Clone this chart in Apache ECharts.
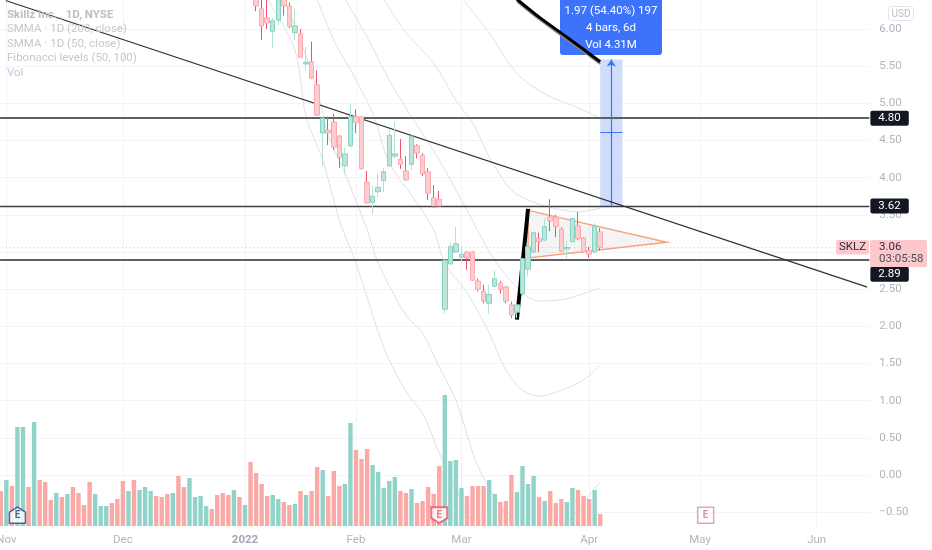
<!DOCTYPE html>
<html>
<head>
    <meta charset="utf-8">
    <title>SKLZ 1D</title>
    <script src="https://cdn.jsdelivr.net/npm/echarts@6/dist/echarts.min.js"></script>
    <style>
    html, body {margin: 0; padding: 0; background: #fff;}
    #main {width: 932px; height: 550px;}
    </style>
</head>
<body>
<div id="main"></div>
<script type="text/javascript">
// trading days, weekends and market holidays left out
var holidays = ['2021-11-25', '2021-12-24', '2022-01-17', '2022-02-21', '2022-04-15', '2022-05-30'];
var dayCount = 157;
var monthLabels = {'2021-11-01': 'Nov', '2021-12-01': 'Dec', '2022-01-03': '2022', '2022-02-01': 'Feb',
    '2022-03-01': 'Mar', '2022-04-01': 'Apr', '2022-05-02': 'May', '2022-06-01': 'Jun'};
var priceTicks = [6, 5.5, 5, 4.5, 4, 3.5, 3, 2.5, 2, 1.5, 1, 0.5, 0, -0.5];

// volume in millions, first bar is 2021-10-29
var volumes = [3.5, 4.6, 4.0, 9.9, 9.9, 3.9, 10.4, 4.6, 4.4, 2.6, 3.3, 2.9, 3.2, 3.9, 3.3, 2.1, 4.4, 3.2, 2.0, 2.0,
    2.3, 2.7, 4.5, 3.5, 4.6, 3.6, 3.9, 3.5, 3.0, 2.9, 3.2, 3.3, 5.0, 3.9, 4.8, 2.9, 3.0, 2.0, 1.7, 3.1,
    3.3, 3.1, 3.6, 2.9, 2.1, 6.4, 5.3, 4.2, 3.0, 3.1, 2.7, 2.4, 2.1, 2.2, 3.5, 3.1, 3.5, 5.9, 5.6, 3.0,
    5.5, 4.0, 4.2, 10.3, 7.6, 6.7, 7.7, 6.1, 5.4, 3.8, 4.5, 4.9, 3.5, 3.3, 3.7, 2.3, 2.5, 3.9, 3.2, 6.0,
    13.1, 6.5, 6.6, 3.8, 3.0, 4.0, 4.0, 4.0, 4.6, 3.2, 2.4, 2.5, 5.1, 3.4, 6.0, 4.2, 5.0, 2.9, 2.5, 3.5,
    2.3, 2.7, 2.4, 3.8, 3.6, 3.0, 2.7, 3.6, 1.2];
// 1 = up day, 0 = down day
var volumeUp = [0, 1, 0, 1, 1, 0, 1, 0, 0, 0, 1, 0, 1, 0, 0, 0, 0, 1, 1, 1,
    0, 0, 0, 1, 0, 1, 1, 1, 0, 0, 0, 1, 0, 0, 1, 1, 1, 1, 0, 0,
    0, 0, 1, 0, 1, 0, 0, 0, 0, 1, 1, 0, 0, 1, 0, 1, 0, 0, 1, 0,
    0, 0, 1, 1, 0, 0, 0, 1, 1, 1, 1, 1, 0, 0, 1, 0, 0, 0, 0, 0,
    1, 1, 1, 1, 0, 0, 0, 0, 1, 1, 0, 0, 0, 1, 1, 1, 1, 0, 1, 0,
    0, 0, 1, 1, 0, 0, 0, 1, 0];

// open, close, low, high; starts at candleStart, earlier bars are above the pane
var candleStart = 46;
var candles = [
    [6.45, 6.31, 6.24, 6.5], [6.27, 6.04, 5.85, 6.43], [6.15, 6.08, 6.0, 6.45], [5.97, 6.11, 5.74, 6.15],
    [6.12, 6.5, 6.05, 6.6], [6.5, 6.31, 6.18, 6.6], [6.31, 6.03, 6.01, 6.36], [5.95, 6.04, 5.85, 6.27],
    [5.93, 5.62, 5.61, 6.0], [5.53, 5.55, 5.44, 5.76], [5.56, 5.34, 5.33, 5.83], [5.25, 4.84, 4.83, 5.44],
    [4.6, 4.8, 4.16, 4.81], [4.64, 4.6, 4.44, 4.82], [4.75, 4.41, 4.37, 4.86], [4.56, 4.27, 4.13, 4.57],
    [4.16, 4.32, 4.04, 4.4], [4.43, 4.82, 4.4, 5.0], [4.82, 4.74, 4.6, 4.92], [4.82, 4.12, 4.11, 4.82],
    [3.94, 3.66, 3.65, 4.09], [3.67, 3.75, 3.51, 3.89], [3.81, 3.87, 3.74, 4.05], [3.96, 4.08, 3.81, 4.13],
    [4.16, 4.57, 4.14, 4.64], [4.29, 4.32, 4.26, 4.75], [4.25, 4.18, 4.12, 4.52], [4.09, 3.97, 3.96, 4.29],
    [4.18, 4.55, 4.1, 4.57], [4.43, 4.33, 4.26, 4.45], [4.3, 4.05, 4.02, 4.33], [4.08, 3.79, 3.7, 4.13],
    [3.73, 3.62, 3.59, 3.9], [3.71, 3.62, 3.61, 3.82], [2.23, 2.89, 2.17, 2.9], [2.84, 3.07, 2.83, 3.13],
    [3.0, 3.11, 2.99, 3.34], [2.93, 2.97, 2.87, 3.07], [3.0, 2.92, 2.76, 3.01], [3.0, 2.62, 2.61, 3.01],
    [2.61, 2.5, 2.47, 2.64], [2.47, 2.34, 2.31, 2.56], [2.31, 2.43, 2.17, 2.56], [2.54, 2.64, 2.53, 2.75],
    [2.58, 2.5, 2.44, 2.61], [2.53, 2.34, 2.31, 2.54], [2.29, 2.15, 2.11, 2.33], [2.19, 2.29, 2.11, 2.3],
    [2.44, 2.91, 2.41, 2.92], [2.77, 3.07, 2.68, 3.08], [3.0, 3.26, 2.98, 3.27], [3.18, 3.14, 3.0, 3.26],
    [3.16, 3.34, 3.15, 3.46], [3.47, 3.42, 3.28, 3.71], [3.47, 3.34, 3.2, 3.5], [3.31, 3.01, 3.0, 3.33],
    [3.04, 3.06, 2.91, 3.15], [3.14, 3.45, 3.13, 3.46], [3.35, 3.18, 3.16, 3.54], [3.19, 3.0, 2.99, 3.2],
    [3.02, 2.97, 2.92, 3.07], [3.0, 3.34, 2.99, 3.39], [3.27, 3.06, 3.02, 3.32]
];

// moving average curves, [bar index, price]
var maA = [[83, 6.42], [88, 5.95], [92, 5.49], [95, 5.27], [99, 5.09], [104, 4.94], [108, 4.8]];
var maB = [[69, 6.4], [73, 5.95], [78, 5.54], [82, 5.04], [85, 4.74], [88, 4.28], [92, 3.83], [95, 3.7], [99, 3.6], [104, 3.54], [108, 3.59]];
var maC = [[62, 6.4], [66, 5.89], [70, 5.31], [74, 4.82], [79, 4.24], [83, 3.7], [89, 2.89], [94, 2.45], [97, 2.34], [102, 2.37], [108, 2.52]];
var maD = [[57, 6.4], [60, 5.85], [63, 5.45], [67, 4.87], [70, 4.2], [75, 3.66], [78, 3.3], [80, 2.85], [84, 2.45], [88, 1.91], [91, 1.41], [94, 1.14], [97, 1.06], [102, 1.17], [105, 1.28], [108, 1.48]];
var maE = [[51, 6.4], [54, 5.85], [57, 5.18], [59, 4.57], [62, 4.06], [66, 3.3], [68, 2.85], [73, 2.15], [76, 1.91], [79, 1.45], [82, 1.01], [86, 0.11], [92, -0.65], [97, -1.1], [102, -0.65], [108, -0.09]];
var maF = [[48, 6.4], [53, 5.72], [55, 4.82], [58, 4.24], [61, 3.43], [64, 2.85], [69, 1.72], [73, 1.12], [76, 0.83], [79, 0.3], [85, -0.65], [87, -0.9]];

// drawings
var levels = [4.8, 3.62, 2.89];
var lastClose = 3.06;
var trendLine = [[1, 6.38], [156, 2.53]];
var flagPole = [[93, 2.09], [95, 3.58]];
var pennant = [[95, 3.56], [120, 3.13], [95, 2.92]];
var bigCurve = [[93, 6.4], [97, 6.16], [102, 5.89], [108, 5.56]];
var bigCurveShade = [[93, 6.37], [97, 6.13], [102, 5.86], [108, 5.53]];
var measureFrom = 108, measureTo = 112, measureMid = 110;
var measureTop = 5.59, measureBottom = 3.62, measureMiddle = 4.61;
var earningsBars = [3, 79, 127];
var earningsLevel = -0.54;

var categories = [];
var t = Date.UTC(2021, 9, 29);
while (categories.length < dayCount) {
    var d = new Date(t);
    var s = d.toISOString().slice(0, 10);
    if (d.getUTCDay() != 0 && d.getUTCDay() != 6 && holidays.indexOf(s) < 0) categories.push(s);
    t += 24 * 3600 * 1000;
}

var UP_WICK = '#b5e4cc', DOWN_WICK = '#f2506e';
var UP_FILL = '#bfe5da', UP_EDGE = '#84d2c2', DOWN_FILL = '#fdcdcf', DOWN_EDGE = '#fbaab0';
var GREY = '#b2b5be', FONT = 'Roboto, sans-serif';
var MA_COLOR = '#dfdfe7';

var pad = [];
for (var i = 0; i < candleStart; i++) pad.push(['-', '-', '-', '-']);
var wickData = pad.concat(candles);
var bodyData = pad.concat(candles.map(function (c) {
    return [c[0], c[1], Math.min(c[0], c[1]), Math.max(c[0], c[1])];
}));

function showMonth(index, value) {
    return monthLabels[value] !== undefined;
}

function lineSeries(data, color, width, z, smooth, cap) {
    return {
        type: 'line', data: data, symbol: 'none', smooth: smooth || 0, z: z, silent: true,
        lineStyle: {color: color, width: width, cap: cap || 'round'}
    };
}

function levelLine(value, color, width, offset) {
    return {
        yAxis: value,
        lineStyle: {color: color, width: width, type: 'solid'},
        label: {
            show: true, position: 'end', distance: 1, formatter: value.toFixed(2), offset: [0, offset],
            color: '#fff', backgroundColor: '#131722', borderRadius: 2, padding: [2, 8, 1, 8],
            fontFamily: FONT, fontSize: 11.5
        }
    };
}

var chart = echarts.init(document.getElementById('main'));

var trendSeries = lineSeries(trendLine, '#2f3239', 1.3, 4);
trendSeries.markLine = {
    silent: true, symbol: 'none', animation: false, z: 4,
    data: [
        levelLine(levels[0], '#5f6063', 2, 0),
        levelLine(levels[1], '#3c3e44', 1.4, 0),
        levelLine(levels[2], '#5f6063', 2, 14),
        {yAxis: lastClose, lineStyle: {color: '#fbc4c8', width: 1, type: [1, 3]}, label: {show: false}},
        // measure tool, arrow and middle tick
        [{coord: [measureMid, measureBottom], lineStyle: {color: '#3f73f5', width: 1.2, type: 'solid'}, label: {show: false}, symbol: 'none', symbolSize: 0},
            {coord: [measureMid, measureTop], symbol: 'arrow', symbolSize: 7}],
        [{coord: [measureFrom, measureMiddle], lineStyle: {color: '#3f73f5', width: 1, type: 'solid'}, label: {show: false}, symbol: 'none', symbolSize: 0},
            {coord: [measureTo, measureMiddle], symbol: 'none', symbolSize: 0}]
    ]
};
trendSeries.markArea = {
    silent: true, animation: false, z: 3,
    itemStyle: {color: '#cfdcfb'},
    data: [[{coord: [measureFrom, measureTop]}, {coord: [measureTo, measureBottom]}]]
};

var option = {
    animation: false,
    backgroundColor: '#fff',
    grid: [{left: -1.98, top: 0, width: 871.35, height: 526, outerBoundsMode: 'none'}],
    xAxis: [{
        type: 'category', data: categories, boundaryGap: true,
        axisLine: {show: false},
        axisTick: {show: false, alignWithLabel: true, interval: showMonth},
        splitLine: {show: true, alignWithLabel: true, interval: showMonth, lineStyle: {color: '#f1f2fa', width: 1}},
        axisLabel: {
            interval: showMonth, margin: 8, color: GREY, fontFamily: FONT, fontSize: 11.5, hideOverlap: false,
            formatter: function (v) {
                return monthLabels[v] == '2022' ? '{y|2022}' : monthLabels[v];
            },
            rich: {y: {color: '#a3a6af', fontWeight: 'bold', fontFamily: FONT, fontSize: 11.5}}
        }
    }],
    yAxis: [{
        type: 'value', position: 'right', min: -0.686, max: 6.39, scale: true,
        axisLine: {show: false},
        axisTick: {show: false, customValues: priceTicks},
        splitLine: {show: true, lineStyle: {color: '#f3f4fb', width: 1}},
        axisLabel: {
            customValues: priceTicks, margin: 10, color: GREY, fontFamily: FONT, fontSize: 11.5,
            formatter: function (v) { return v.toFixed(2).replace('-', '\u2212'); }
        }
    }, {
        // volume overlay, bars share the pane with price
        type: 'value', min: 0, max: 52.6, show: false, splitLine: {show: false}
    }],
    series: [
        lineSeries(maA, MA_COLOR, 1, 1, 0.3),
        lineSeries(maB, MA_COLOR, 1, 1, 0.3),
        lineSeries(maC, MA_COLOR, 1, 1, 0.3),
        lineSeries(maD, MA_COLOR, 1, 1, 0.3),
        lineSeries(maE, MA_COLOR, 1, 1, 0.3),
        lineSeries(maF, MA_COLOR, 1, 1, 0.3),
        {
            type: 'bar', yAxisIndex: 1, barWidth: 4.4, z: 2, silent: true,
            data: volumes.map(function (v, i) {
                return {value: v, itemStyle: {color: volumeUp[i] ? '#92d3c9' : '#fba9a6'}};
            })
        },
        trendSeries,
        {
            // pennant outline drawn through the axes
            type: 'custom', z: 4, silent: true, data: [0],
            renderItem: function (params, api) {
                return {
                    type: 'polygon',
                    shape: {points: pennant.map(function (p) { return api.coord(p); })},
                    style: {fill: 'rgba(120,120,130,0.08)', stroke: '#f7a27c', lineWidth: 1.5}
                };
            }
        },
        lineSeries(flagPole, '#000', 4, 5, 0, 'butt'),
        {
            type: 'candlestick', data: wickData, barWidth: 1, z: 6, silent: true,
            itemStyle: {color: UP_WICK, color0: DOWN_WICK, borderColor: UP_WICK, borderColor0: DOWN_WICK, borderWidth: 1}
        },
        {
            type: 'candlestick', data: bodyData, barWidth: 5, z: 7, silent: true,
            itemStyle: {color: UP_FILL, color0: DOWN_FILL, borderColor: UP_EDGE, borderColor0: DOWN_EDGE, borderWidth: 1}
        },
        lineSeries(bigCurveShade, '#8a8a8a', 2, 11, 0.3, 'butt'),
        lineSeries(bigCurve, '#000', 3, 12, 0.3, 'butt'),
        {
            type: 'scatter', z: 9, silent: true,
            data: [
                {value: [earningsBars[0], earningsLevel], symbol: 'path://M0 5L8 0L16 5V16H0Z', itemStyle: {color: '#fff', borderColor: '#23447e', borderWidth: 1.5}, label: {color: '#23447e'}},
                {value: [earningsBars[1], earningsLevel], symbol: 'path://M0 0H16V11L8 16L0 11Z', itemStyle: {color: '#fff', borderColor: '#f0506e', borderWidth: 2}, label: {color: '#f0506e'}},
                {value: [earningsBars[2], earningsLevel], symbol: 'rect', itemStyle: {color: '#fff', borderColor: '#dc8ea6', borderWidth: 1.5}, label: {color: '#c9799a'}}
            ],
            symbolSize: 16,
            label: {show: true, position: 'inside', formatter: 'E', fontFamily: FONT, fontSize: 10, fontWeight: 'bold'}
        }
    ],
    graphic: [
        // pane legend
        {type: 'text', left: 7, top: 9, z: 8, style: {text: 'Skillz Inc. , 1D, NYSE', fill: '#bcbec6', font: 'bold 11.5px ' + FONT}},
        {type: 'text', left: 7, top: 23, z: 8, style: {text: 'SMMA \u00b7 1D (200, close)', fill: '#c6c8cf', font: '11.5px ' + FONT}},
        {type: 'text', left: 7, top: 38, z: 8, style: {text: 'SMMA \u00b7 1D (50, close)', fill: '#c6c8cf', font: '11.5px ' + FONT}},
        {type: 'text', left: 7, top: 52, z: 8, style: {text: 'Fibonacci levels (50, 100)', fill: '#c6c8cf', font: '11.5px ' + FONT}},
        {type: 'text', left: 7, top: 67, z: 8, style: {text: 'Vol', fill: '#c6c8cf', font: '11.5px ' + FONT}},
        // measure label
        {type: 'rect', z: 10, shape: {x: 560, y: -4, width: 102, height: 59, r: 3}, style: {fill: '#3d73fb'}},
        {type: 'text', z: 10, x: 611, y: 11, style: {text: '1.97 (54.40%) 197', fill: '#fff', font: '11.5px ' + FONT, align: 'center', verticalAlign: 'middle'}},
        {type: 'text', z: 10, x: 611, y: 28, style: {text: '4 bars, 6d', fill: '#fff', font: '11.5px ' + FONT, align: 'center', verticalAlign: 'middle'}},
        {type: 'text', z: 10, x: 611, y: 45, style: {text: 'Vol 4.31M', fill: '#fff', font: '11.5px ' + FONT, align: 'center', verticalAlign: 'middle'}},
        // currency box
        {type: 'rect', z: 10, shape: {x: 888.5, y: 6.5, width: 25, height: 14, r: 3}, style: {fill: '#fff', stroke: '#e0e3eb', lineWidth: 1}},
        {type: 'text', z: 10, x: 901, y: 14, style: {text: 'USD', fill: '#bcbfc7', font: '10px ' + FONT, align: 'center', verticalAlign: 'middle'}},
        // last price tags
        {type: 'rect', z: 20, shape: {x: 836, y: 240, width: 33, height: 14.5, r: 2}, style: {fill: '#fcc8cb'}},
        {type: 'text', z: 20, x: 852.5, y: 247.5, style: {text: 'SKLZ', fill: '#2a2e39', font: '11.5px ' + FONT, align: 'center', verticalAlign: 'middle'}},
        {type: 'rect', z: 20, shape: {x: 870, y: 240, width: 57, height: 27, r: 2}, style: {fill: '#fcc8cb'}},
        {type: 'text', z: 20, x: 879, y: 247, style: {text: lastClose.toFixed(2), fill: '#2a2e39', font: '11.5px ' + FONT, verticalAlign: 'middle'}},
        {type: 'text', z: 20, x: 879, y: 259.5, style: {text: '03:05:58', fill: '#4a4e59', font: '11.5px ' + FONT, verticalAlign: 'middle'}}
    ]
};
chart.setOption(option);
</script>
</body>
</html>
